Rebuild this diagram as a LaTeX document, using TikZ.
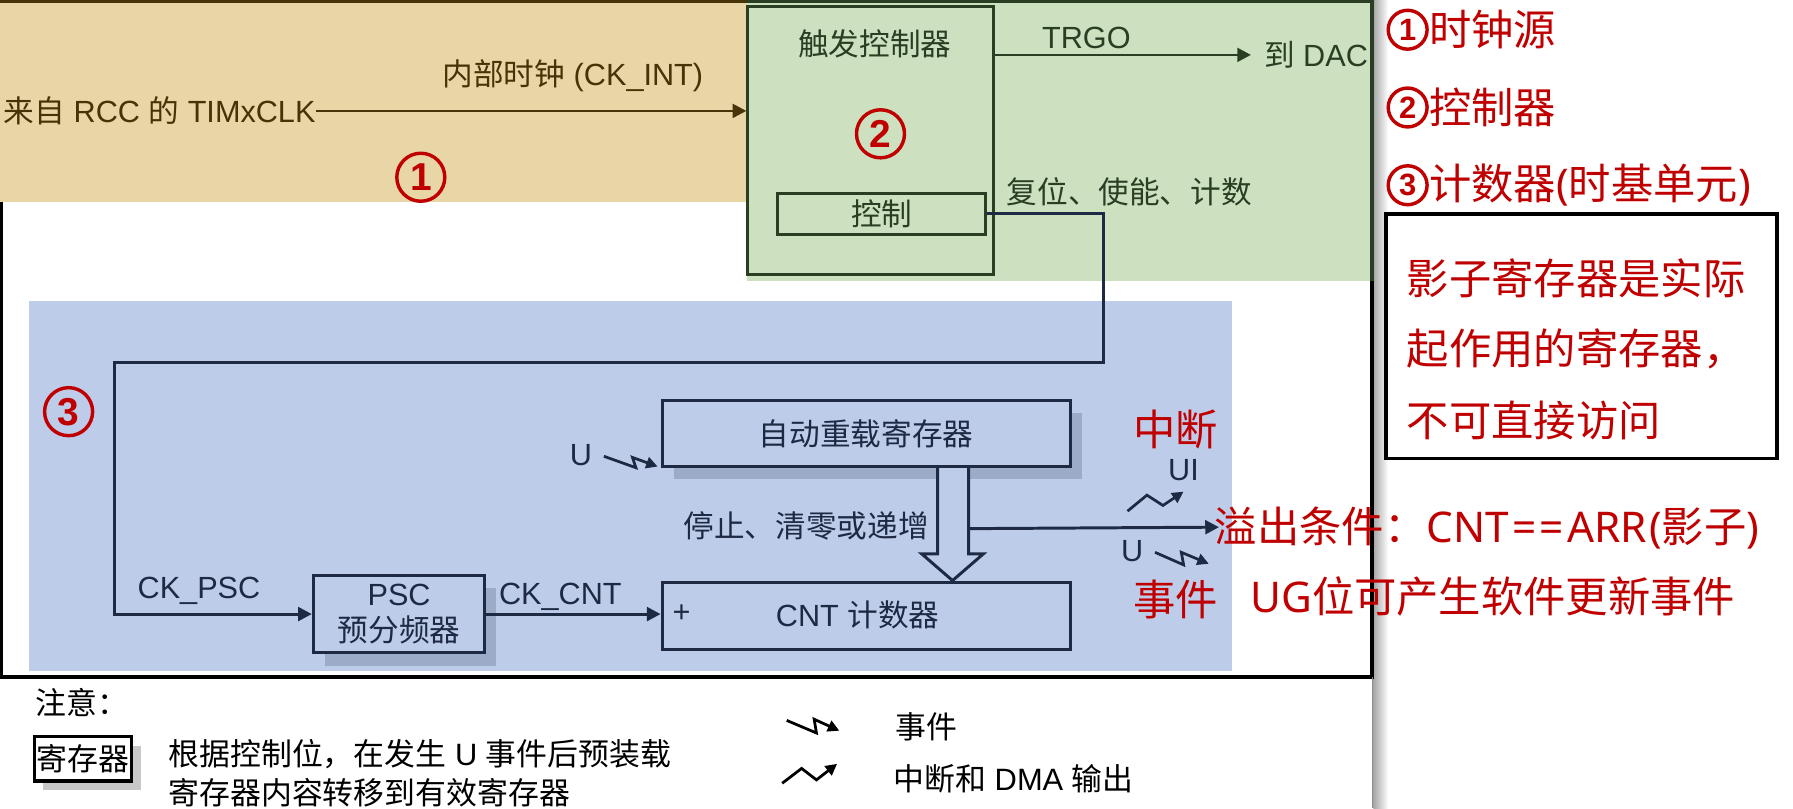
\documentclass[tikz,border=0pt]{standalone}
\usepackage{fontspec}
\setmainfont{Liberation Sans}
\newfontfamily\cjk{Noto Sans CJK SC}
\newfontfamily\numfont{Liberation Sans}
\newfontfamily\latred{Noto Sans}
\usetikzlibrary{arrows.meta,calc,shadows}
\newcommand{\zh}[1]{{\cjk #1}}
\newcommand{\lr}[1]{{\latred #1}}
\definecolor{tanbg}{RGB}{232,214,166}
\definecolor{greenbg}{RGB}{205,225,192}
\definecolor{bluebg}{RGB}{189,205,233}
\definecolor{tanln}{RGB}{70,52,8}
\definecolor{greenln}{RGB}{42,62,36}
\definecolor{blueln}{RGB}{30,42,68}
\definecolor{shadowc}{RGB}{155,171,200}
\definecolor{redt}{RGB}{192,0,0}
\definecolor{legshadow}{RGB}{200,200,200}
\tikzset{
  txt/.style={inner sep=0pt, font=\fontsize{13.4}{16}\selectfont},
  legtxt/.style={inner sep=0pt, text=black, font=\fontsize{13.5}{16}\selectfont},
  redtxt/.style={inner sep=0pt, text=redt, font=\cjk\fontsize{18.5}{22}\selectfont},
  cnum/.style={circle, draw=redt, line width=1.5pt, text=redt, inner sep=0pt, minimum size=21pt, font=\numfont\bfseries\fontsize{17}{17}\selectfont},
  cnumsmall/.style={cnum, minimum size=17pt, line width=1.5pt, font=\numfont\bfseries\fontsize{13.5}{13.5}\selectfont},
  bbox/.style={draw=blueln, line width=1.3pt, fill=bluebg, inner sep=0pt},
  gbox/.style={draw=greenln, line width=1.3pt, inner sep=0pt},
  bline/.style={draw=blueln, line width=1.3pt},
  tipa/.style={-{Triangle[length=6pt,width=6pt]}},
  evt/.style={line width=1.2pt, -{Triangle[length=5pt,width=5pt]}},
  bshadow/.style={drop shadow={shadow xshift=5pt, shadow yshift=-5.5pt, fill=shadowc, opacity=1}},
}
\begin{document}
\begin{tikzpicture}[x=0.5pt,y=-0.5pt]
\useasboundingbox (0,0) rectangle (1568,707);
\fill[white] (0,0) rectangle (1568,707);
% backgrounds
\fill[tanbg] (0,0) rectangle (653,177);
\fill[greenbg] (653,0) rectangle (1200,246);
\fill[bluebg] (25,263) rectangle (1077,587);
% page shadow
\shade[left color=black!35, right color=white] (1201,0) rectangle (1214,707);
% frame
\draw[tanln, line width=1.5pt] (0,1.5) -- (653,1.5);
\draw[greenln, line width=1.5pt] (653,1.5) -- (1200,1.5) -- (1200,246);
\draw[black, line width=1.5pt] (1,177) -- (1,592) -- (1200,592) -- (1200,246);
\draw[black!45, line width=0.6pt] (1200,592) -- (1200,707);

% ---- clock source ----
\node[txt, text=tanln, anchor=west] (src) at (3,97) {\zh{来自} RCC \zh{的} TIMxCLK};
\node[txt, text=tanln] (ckint) at (501,66) {\zh{内部时钟} (CK\_INT)};
\node[cnum] (n1) at (368,155) {1};

% ---- trigger controller ----
\node[gbox, minimum width=107.5pt, minimum height=117pt] (trig) at (761.5,123) {};
\node[txt, text=greenln] (trigt) at (765,38) {\zh{触发控制器}};
\node[cnum] (n2) at (770,117) {2};
\node[gbox, txt, text=greenln, minimum width=91pt, minimum height=18pt] (ctrl) at (771,187) {\zh{控制}};
\draw[tanln, line width=1.2pt, tipa] (src.east) -- (src.east -| trig.west);
\node[txt, text=greenln] (trgo) at (950,33) {TRGO};
\node[txt, text=greenln, anchor=west] (dac) at (1105,48) {\zh{到} DAC};
\draw[greenln, line width=1.2pt, tipa] (trig.east |- dac.west) -- ($(dac.west)+(-11,0)$);
\node[txt, text=greenln, anchor=west] (rst) at (880,168) {\zh{复位、使能、计数}};

% ---- time base unit ----
\node[cnum] (n3) at (60,360) {3};
\node[bbox, bshadow, txt, text=blueln, align=center, minimum width=75pt, minimum height=34pt] (psc) at (349,537) {PSC\\\zh{预分频器}};
\node[bbox, bshadow, txt, text=blueln, minimum width=178.5pt, minimum height=29pt] (arr) at (757.5,379) {\zh{自动重载寄存器}};
\node[bbox, minimum width=178.5pt, minimum height=29.5pt] (cnt) at (757.5,538.5) {};
\node[txt, text=blueln] (cntt) at (750,538) {CNT \zh{计数器}};
\node[txt, text=blueln] (plus) at (596,537) {+};

\draw[bline, tipa] (ctrl.east) -- ++(102,0) |- (100,317) |- (psc.west);
\node[txt, text=blueln] (ckpsc) at (174,517) {CK\_PSC};
\draw[bline, tipa] (psc.east) -- (cnt.west |- psc.east);
\node[txt, text=blueln] (ckcnt) at (490,522) {CK\_CNT};

\node[txt, text=blueln] (u1) at (508,398) {U};
\draw[evt, blueln] ($(u1.east)+(10,1)$) -- ++(28,10) -- ++(-3,-9) -- ++(22,8);

\draw[blueln, line width=1.3pt, fill=bluebg] ($(arr.south)+(62.5,0)$) -- ++(0,75) -- ++(-14,0) -- ($(cnt.north)+(75.5,0)$) -- ($(arr.south)+(102.5,75)$) -- ++(-13,0) -- ($(arr.south)+(89.5,0)$);
\node[txt, text=blueln] (stop) at (705,460) {\zh{停止、清零或递增}};

\coordinate (ovfend) at (1066,461);
\draw[bline, tipa] ($(arr.south)+(89.5,53)$) -- (ovfend);

\node[txt, text=blueln] (ui) at (1035,411) {UI};
\draw[evt, blueln] (986,447) -- ++(17,-14) -- ++(14,9) -- ++(18,-12);
\node[txt, text=blueln] (u2) at (990,482) {U};
\draw[evt, blueln] ($(u2.east)+(10,1)$) -- ++(25,11) -- ++(-2,-11) -- ++(24,10);

% ---- red annotations ----
\node[redtxt] (zd) at (1028,376) {中断};
\node[redtxt] (sj) at (1028,524) {事件};
\node[redtxt, anchor=west] (ovf) at (1062,462) {溢出条件：\lr{CNT\hspace{1.5pt}=\hspace{1.5pt}=\hspace{1.5pt}ARR\hspace{0.8pt}(}影子\lr{)}};
\node[redtxt, anchor=west] (ug) at (1093,522) {\lr{UG}位可产生软件更新事件};

\node[cnumsmall] (r1) at (1231,26) {1};
\node[redtxt, anchor=west] (r1t) at (r1.east) {时钟源};
\node[cnumsmall] (r2) at (1231,94) {2};
\node[redtxt, anchor=west] (r2t) at (r2.east) {控制器};
\node[cnumsmall] (r3) at (1231,162) {3};
\node[redtxt, anchor=west] (r3t) at (r3.east) {计数器\lr{(}时基单元\lr{)}};

\node[draw=black, line width=1.5pt, minimum width=171pt, minimum height=107pt] (shbox) at (1383,294) {};
\node[redtxt, anchor=west] (s1) at (1230,243) {影子寄存器是实际};
\node[redtxt, anchor=west] (s2) at (1230,305) {起作用的寄存器，};
\node[redtxt, anchor=west] (s3) at (1230,368) {不可直接访问};

% ---- legend ----
\node[legtxt, anchor=west] (zy) at (31,614) {\zh{注意：}};
\node[draw=black, line width=1.5pt, fill=white, drop shadow={shadow xshift=4pt, shadow yshift=-4pt, fill=legshadow, opacity=1}, legtxt, minimum width=42.5pt, minimum height=19.5pt] (legbox) at (72.5,663.5) {\zh{寄存器}};
\node[legtxt, anchor=west] (ld1) at (147,659) {\zh{根据控制位，在发生} U \zh{事件后预装载}};
\node[legtxt, anchor=west] (ld2) at (147,693) {\zh{寄存器内容转移到有效寄存器}};
\node[legtxt] (legevt) at (810,636) {\zh{事件}};
\draw[evt, black] (688,630) -- ++(26,11) -- ++(-2,-12) -- ++(22,10);
\node[legtxt, anchor=west] (legint) at (781,681) {\zh{中断和} DMA \zh{输出}};
\draw[evt, black] (684,685) -- ++(17,-13) -- ++(13,10) -- ++(18,-14);
\end{tikzpicture}
\end{document}
